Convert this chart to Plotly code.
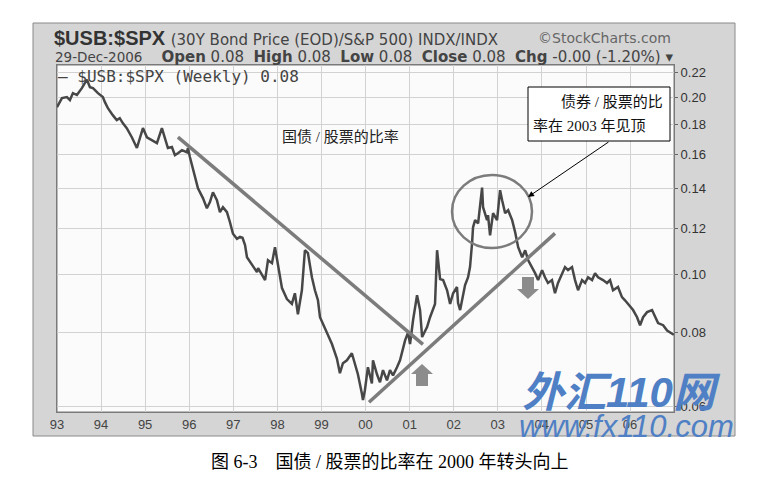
import plotly.graph_objects as go

# weekly ratio $USB:$SPX
dates = [
    "1993-01-01", "1993-02-11", "1993-03-24", "1993-04-18", "1993-05-13", "1993-06-15", "1993-07-26",
    "1993-09-06", "1993-10-01", "1993-10-26", "1993-12-06", "1994-01-16", "1994-02-02", "1994-02-27",
    "1994-04-08", "1994-05-11", "1994-06-05", "1994-06-30", "1994-08-02", "1994-09-13", "1994-10-25",
    "1994-11-19", "1994-12-14", "1995-01-16", "1995-02-27", "1995-04-09", "1995-05-20", "1995-06-14",
    "1995-07-09", "1995-08-11", "1995-09-05", "1995-09-30", "1995-11-02", "1995-12-13", "1995-12-22",
    "1996-01-07", "1996-01-23", "1996-02-17", "1996-03-14", "1996-04-24", "1996-05-27", "1996-06-21",
    "1996-07-16", "1996-08-18", "1996-09-12", "1996-10-07", "1996-11-09", "1996-12-04", "1996-12-29",
    "1997-01-31", "1997-02-25", "1997-03-18", "1997-04-08", "1997-04-24", "1997-06-05", "1997-07-16",
    "1997-07-25", "1997-08-27", "1997-09-21", "1997-10-15", "1997-11-17", "1997-12-12", "1998-01-06",
    "1998-02-08", "1998-03-21", "1998-05-01", "1998-05-26", "1998-06-20", "1998-07-23", "1998-08-17",
    "1998-09-11", "1998-10-14", "1998-11-08", "1998-12-03", "1998-12-20", "1999-01-14", "1999-02-16",
    "1999-03-29", "1999-05-09", "1999-06-03", "1999-06-28", "1999-07-31", "1999-09-10", "1999-10-05",
    "1999-10-30", "1999-12-02", "1999-12-11", "1999-12-27", "2000-01-21", "2000-02-23", "2000-03-03",
    "2000-04-05", "2000-04-30", "2000-05-25", "2000-06-27", "2000-07-22", "2000-08-16", "2000-09-18",
    "2000-10-13", "2000-11-24", "2000-12-19", "2001-01-04", "2001-01-29", "2001-03-03", "2001-03-28",
    "2001-04-14", "2001-05-25", "2001-06-19", "2001-07-30", "2001-08-16", "2001-09-10", "2001-10-05",
    "2001-11-07", "2001-12-02", "2001-12-27", "2002-01-28", "2002-02-06", "2002-02-23", "2002-03-19",
    "2002-04-05", "2002-04-30", "2002-05-16", "2002-06-02", "2002-06-10", "2002-06-27", "2002-07-22",
    "2002-08-24", "2002-09-01", "2002-10-04", "2002-10-12", "2002-10-29", "2002-11-23", "2002-12-26",
    "2003-01-20", "2003-02-06", "2003-03-03", "2003-03-28", "2003-04-30", "2003-05-25", "2003-06-19",
    "2003-07-22", "2003-08-16", "2003-09-10", "2003-10-12", "2003-11-06", "2003-12-01", "2004-01-03",
    "2004-01-27", "2004-02-21", "2004-03-25", "2004-04-19", "2004-05-14", "2004-06-16", "2004-07-11",
    "2004-08-05", "2004-09-07", "2004-10-02", "2004-10-27", "2004-11-29", "2004-12-24", "2005-01-18",
    "2005-02-20", "2005-03-17", "2005-04-11", "2005-05-22", "2005-06-24", "2005-07-19", "2005-08-13",
    "2005-09-23", "2005-10-26", "2005-11-20", "2006-01-01", "2006-01-26", "2006-02-28", "2006-03-25",
    "2006-04-19", "2006-05-22", "2006-07-02", "2006-07-27", "2006-08-21", "2006-10-02", "2006-11-04",
    "2006-12-29",
]
ratio = [
    0.1923, 0.1992, 0.2000, 0.1977, 0.2031, 0.2016, 0.2071,
    0.2140, 0.2079, 0.2071, 0.2031, 0.2000, 0.1961, 0.1915,
    0.1864, 0.1828, 0.1842, 0.1807, 0.1772, 0.1710, 0.1640,
    0.1710, 0.1772, 0.1710, 0.1691, 0.1671, 0.1772, 0.1704,
    0.1640, 0.1646, 0.1595, 0.1607, 0.1626, 0.1613, 0.1640,
    0.1583, 0.1534, 0.1458, 0.1402, 0.1349, 0.1297, 0.1328,
    0.1380, 0.1338, 0.1277, 0.1302, 0.1277, 0.1228, 0.1174,
    0.1151, 0.1160, 0.1156, 0.1123, 0.1071, 0.1039, 0.1011,
    0.1027, 0.0999, 0.0980, 0.1059, 0.1047, 0.1114, 0.1047,
    0.0950, 0.0910, 0.0893, 0.0931, 0.0858, 0.0942, 0.1101,
    0.1089, 0.0991, 0.0942, 0.0906, 0.0848, 0.0826, 0.0794,
    0.0764, 0.0722, 0.0682, 0.0709, 0.0717, 0.0737, 0.0709,
    0.0679, 0.0630, 0.0614, 0.0638, 0.0698, 0.0655, 0.0717,
    0.0679, 0.0658, 0.0690, 0.0663, 0.0690, 0.0676, 0.0698,
    0.0717, 0.0775, 0.0799, 0.0764, 0.0838, 0.0924, 0.0872,
    0.0785, 0.0816, 0.0848, 0.0893, 0.1101, 0.0984, 0.0980,
    0.0942, 0.0893, 0.0931, 0.0954, 0.0896, 0.0872, 0.0917,
    0.0961, 0.0991, 0.1031, 0.1132, 0.1204, 0.1238, 0.1223,
    0.1405, 0.1302, 0.1238, 0.1262, 0.1167, 0.1272, 0.1238,
    0.1391, 0.1338, 0.1272, 0.1287, 0.1238, 0.1181, 0.1114,
    0.1071, 0.1101, 0.1059, 0.1031, 0.1007, 0.0980, 0.1019,
    0.0991, 0.0969, 0.0980, 0.0931, 0.0969, 0.1007, 0.1031,
    0.1019, 0.1031, 0.0980, 0.0942, 0.0980, 0.0969, 0.0991,
    0.0980, 0.1007, 0.0991, 0.0980, 0.0969, 0.0980, 0.0942,
    0.0954, 0.0917, 0.0906, 0.0882, 0.0872, 0.0848, 0.0822,
    0.0848, 0.0865, 0.0872, 0.0848, 0.0829, 0.0822, 0.0805,
    0.0792,
]

# hand drawn trend lines
down_dates = ["1995-09-30", "2001-04-21"]
down_vals = [0.1711, 0.0763]
up_dates = ["2000-01-30", "2004-04-19"]
up_vals = [0.0609, 0.1176]

y_ticks = [0.06, 0.08, 0.10, 0.12, 0.14, 0.16, 0.18, 0.20, 0.22]

W, H = 770, 485
L, R, T, B = 57, 96, 65, 73
PW, PH = W - L - R, H - T - B


def px(x):  # pixel -> paper (decorations only)
    return (x - L) / PW


def py(y):
    return (H - B - y) / PH


fig = go.Figure()
fig.add_trace(go.Scatter(x=dates, y=ratio, mode="lines", line=dict(color="#474747", width=2.5), hoverinfo="skip"))
fig.add_trace(go.Scatter(x=down_dates, y=down_vals, mode="lines", line=dict(color="#7c7c7c", width=3.5)))
fig.add_trace(go.Scatter(x=up_dates, y=up_vals, mode="lines", line=dict(color="#7c7c7c", width=3.5)))

shapes = [
    dict(type="rect", xref="paper", yref="paper", x0=px(33), x1=px(735), y0=py(436), y1=py(23),
         fillcolor="#d5d5d5", line=dict(color="#8a8a8a", width=1), layer="below"),
    dict(type="rect", xref="paper", yref="paper", x0=0, x1=1, y0=0, y1=1,
         fillcolor="#fbfbfb", line=dict(color="#7a7a7a", width=1), layer="below"),
    # circle round the 2003 top
    dict(type="circle", xref="paper", yref="paper", x0=px(452), x1=px(532), y0=py(248), y1=py(175),
         line=dict(color="#7c7c7c", width=2.5)),
    # text box
    dict(type="rect", xref="paper", yref="paper", x0=px(528), x1=px(670), y0=py(141), y1=py(87),
         fillcolor="white", line=dict(color="black", width=1)),
]


def block_arrow(cx, cy, up):
    s = -1 if up else 1
    pts = [(cx, cy + 11 * s), (cx - 11, cy + 1 * s), (cx - 6, cy + 1 * s), (cx - 6, cy - 11 * s),
           (cx + 6, cy - 11 * s), (cx + 6, cy + 1 * s), (cx + 11, cy + 1 * s)]
    path = "M " + " L ".join(f"{px(a):.5f},{py(b):.5f}" for a, b in pts) + " Z"
    return dict(type="path", xref="paper", yref="paper", path=path, fillcolor="#8c8c8c", line=dict(width=0))


shapes.append(block_arrow(422, 375, True))
shapes.append(block_arrow(528, 288, False))

cn = "Liberation Serif, Noto Sans CJK SC"
sans = "Liberation Sans, Arial"
wide = "DejaVu Sans"
nb = "\u00a0"


def note(x, y, text, font, xanchor="center"):
    return dict(x=px(x), y=py(y), xref="paper", yref="paper", xanchor=xanchor, yanchor="middle",
                showarrow=False, text=text, font=font)


annotations = [
    note(52, 38, "<b>$USB:$SPX</b> <span style='font-family:DejaVu Sans;font-size:15px;color:#444'>"
                 "(30Y Bond Price (EOD)/S&P 500) INDX/INDX</span>",
         dict(family=sans, size=20, color="#333"), "left"),
    note(673, 38, "©StockCharts.com", dict(family=wide, size=14, color="#666"), "right"),
    note(53, 57, f"<span style='font-size:13.5px'>29-Dec-2006</span>{nb * 4}<b>Open</b> 0.08{nb * 2}<b>High</b> 0.08{nb * 2}"
                 f"<b>Low</b> 0.08{nb * 2}<b>Close</b> 0.08{nb * 2}<b>Chg</b> -0.00 (-1.20%) ▾",
         dict(family=wide, size=15, color="#444"), "left"),
    note(56, 76, "— $USB:$SPX (Weekly) 0.08", dict(family="DejaVu Sans Mono", size=16, color="#444"), "left"),
    note(340, 137, "国债 / 股票的比率", dict(family=cn, size=15, color="#222")),
    note(665, 102, "债券 / 股票的比", dict(family=cn, size=15, color="#111"), "right"),
    note(531, 126, "率在 2003 年见顶", dict(family=cn, size=15, color="#111"), "left"),
    # watermark
    note(621, 392, "<b><i>外汇110网</i></b>", dict(family="Liberation Sans, Noto Sans CJK SC", size=42, color="#4f7fc4")),
    note(626, 426, "<i>www.fx110.com</i>", dict(family=sans, size=31, color="#4f7fc4")),
    # caption
    note(390, 462, "图 6-3　国债 / 股票的比率在 2000 年转头向上", dict(family=cn, size=18, color="black")),
]
annotations.append(dict(x=px(528), y=py(197), xref="paper", yref="paper", ax=82, ay=-56, text="",
                        showarrow=True, arrowhead=2, arrowsize=1.2, arrowwidth=1, arrowcolor="black"))

fig.update_layout(
    width=W, height=H,
    margin=dict(l=L, r=R, t=T, b=B),
    paper_bgcolor="white", plot_bgcolor="#fbfbfb",
    showlegend=False,
    shapes=shapes, annotations=annotations,
    xaxis=dict(type="date", range=["1993-01-01", "2006-12-31"], tick0="1993-01-01", dtick="M12",
               tickformat="%y", showgrid=True, gridcolor="#d2d2d2", gridwidth=1,
               tickfont=dict(family=sans, size=13, color="#444"), ticks="", zeroline=False,
               showline=True, mirror=True, linecolor="#7a7a7a"),
    yaxis=dict(type="log", side="right", range=[-1.232, -0.6447], tickvals=y_ticks,
               ticktext=[f"{v:.2f}" for v in y_ticks], showgrid=True, gridcolor="#d2d2d2",
               tickfont=dict(family=sans, size=13, color="#333"), ticks="outside", ticklen=3,
               tickcolor="#666", zeroline=False, showline=True, mirror=True, linecolor="#7a7a7a"),
)

fig.write_html("out.html", config={"displayModeBar": False},
               post_script="document.body.style.margin='0px';")
